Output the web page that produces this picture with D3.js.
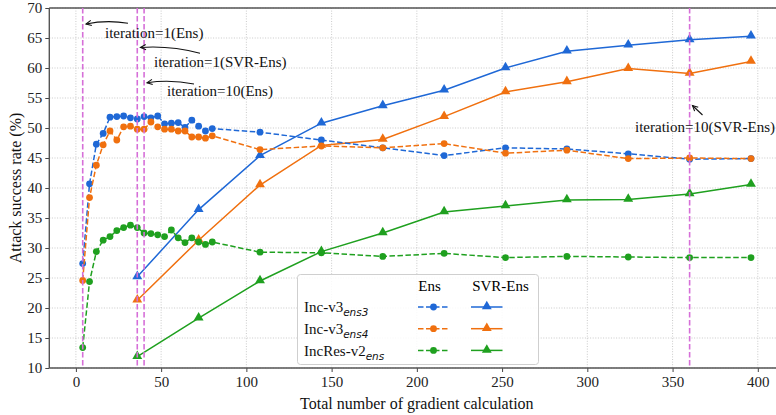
<!DOCTYPE html>
<html>
<head>
<meta charset="utf-8">
<script src="https://cdn.jsdelivr.net/npm/d3@7"></script>
<style>
  body { margin: 0; background: #fff; }
  svg { display: block; font-family: "Liberation Serif", "Times New Roman", serif; }
</style>
</head>
<body>
<div id="chart"></div>
<script>
// gradient calculations for the Ens runs and for the SVR-Ens runs
const xEns = [4, 8, 12, 16, 20, 24, 28, 32, 36, 40, 44, 48, 52, 56, 60, 64, 68, 72, 76, 80,
  108, 144, 180, 216, 252, 288, 324, 360, 396];
const ensV3ens3 = [27.4, 40.7, 47.3, 49.1, 51.8, 51.9, 52.0, 51.7, 51.5, 51.9, 51.7, 52.0, 50.7, 50.8, 50.9, 50.1, 51.3, 50.3, 49.5, 49.9,
  49.3, 48.0, 46.7, 45.4, 46.7, 46.5, 45.7, 44.8, 44.9];
const ensV3ens4 = [24.6, 38.4, 43.8, 47.2, 49.5, 48.0, 50.2, 50.3, 49.8, 49.8, 51.0, 50.2, 49.8, 49.8, 49.5, 49.5, 48.5, 48.5, 48.3, 48.7,
  46.4, 47.0, 46.7, 47.4, 45.8, 46.3, 44.9, 45.0, 44.9];
const ensIncRes = [13.4, 24.4, 29.4, 31.3, 31.9, 32.9, 33.4, 33.8, 33.4, 32.5, 32.4, 32.2, 31.9, 33.0, 31.7, 30.9, 31.7, 31.0, 30.6, 31.0,
  29.3, 29.2, 28.6, 29.1, 28.4, 28.6, 28.5, 28.4, 28.4];

const xSvr = [36, 72, 108, 144, 180, 216, 252, 288, 324, 360, 396];
const svrV3ens3 = [25.2, 36.4, 45.4, 50.8, 53.7, 56.3, 60.0, 62.8, 63.8, 64.7, 65.3];
const svrV3ens4 = [21.3, 31.3, 40.5, 47.1, 48.1, 51.9, 56.0, 57.7, 59.9, 59.1, 61.1];
const svrIncRes = [11.9, 18.3, 24.5, 29.4, 32.5, 36.0, 37.0, 38.0, 38.1, 39.0, 40.6];

const models = ["Inc-v3", "Inc-v3", "IncRes-v2"];
const modelSubs = ["ens3", "ens4", "ens"];
const colors = ["#1f68d6", "#f0700f", "#1fa01f"];

const xTicks = [0, 50, 100, 150, 200, 250, 300, 350, 400];
const yTicks = [10, 15, 20, 25, 30, 35, 40, 45, 50, 55, 60, 65, 70];

// vertical marker lines and their notes
const markLines = [4, 36, 40, 360];
const notes = ["iteration=1(Ens)", "iteration=1(SVR-Ens)", "iteration=10(Ens)", "iteration=10(SVR-Ens)"];

const W = 776, H = 415;
const plot = { left: 49.3, right: 784.4, top: 8, bottom: 368 };

const x = d3.scaleLinear().domain([-15.6, 415.6]).range([plot.left, plot.right]);
const y = d3.scaleLinear().domain([10, 70]).range([plot.bottom, plot.top]);

const svg = d3.select("#chart").append("svg")
  .attr("width", W).attr("height", H);

svg.append("defs").append("clipPath").attr("id", "clip")
  .append("rect")
  .attr("x", plot.left).attr("y", plot.top)
  .attr("width", plot.right - plot.left).attr("height", plot.bottom - plot.top);

// grid
const grid = svg.append("g").attr("class", "grid");
grid.selectAll("line.gx").data(xTicks).enter().append("line")
  .attr("x1", d => x(d)).attr("x2", d => x(d))
  .attr("y1", plot.top).attr("y2", plot.bottom)
  .attr("stroke", "#bdbdbd").attr("stroke-width", 0.8).attr("stroke-dasharray", "1,1.6");
grid.selectAll("line.gy").data(yTicks).enter().append("line")
  .attr("x1", plot.left).attr("x2", plot.right)
  .attr("y1", d => y(d)).attr("y2", d => y(d))
  .attr("stroke", "#bdbdbd").attr("stroke-width", 0.8).attr("stroke-dasharray", "1,1.6");

// axes
const xAxis = d3.axisBottom(x).tickValues(xTicks).tickSize(4).tickPadding(4);
const yAxis = d3.axisLeft(y).tickValues(yTicks).tickSize(4).tickPadding(3);

const gx = svg.append("g").attr("transform", `translate(0,${plot.bottom})`).call(xAxis);
const gy = svg.append("g").attr("transform", `translate(${plot.left},0)`).call(yAxis);
[gx, gy].forEach(g => {
  g.select(".domain").remove();
  g.selectAll(".tick line").attr("stroke", "#444").attr("stroke-width", 1);
  g.selectAll(".tick text").attr("fill", "#222")
    .style("font-family", "'Liberation Serif', serif").style("font-size", "15px");
});

// spines
svg.append("line").attr("x1", plot.left).attr("x2", plot.right)
  .attr("y1", plot.bottom).attr("y2", plot.bottom).attr("stroke", "#555").attr("stroke-width", 1.4);
svg.append("line").attr("x1", plot.left).attr("x2", plot.right)
  .attr("y1", plot.top).attr("y2", plot.top).attr("stroke", "#555").attr("stroke-width", 1.4);
svg.append("line").attr("x1", plot.left).attr("x2", plot.left)
  .attr("y1", plot.top).attr("y2", plot.bottom).attr("stroke", "#555").attr("stroke-width", 1.4);

// axis labels
svg.append("text")
  .attr("x", (plot.left + plot.right) / 2).attr("y", 409)
  .attr("text-anchor", "middle").style("font-size", "16px").attr("fill", "#111")
  .text("Total number of gradient calculation");
svg.append("text")
  .attr("transform", `translate(21,${(plot.top + plot.bottom) / 2}) rotate(-90)`)
  .attr("text-anchor", "middle").style("font-size", "16px").attr("fill", "#111")
  .text("Attack success rate (%)");

// series
const ensSets = [ensV3ens3, ensV3ens4, ensIncRes];
const svrSets = [svrV3ens3, svrV3ens4, svrIncRes];
const tri = d3.symbol().type(d3.symbolTriangle).size(42);

const body = svg.append("g").attr("clip-path", "url(#clip)");
const line = d3.line().x(d => x(d[0])).y(d => y(d[1]));

svrSets.forEach((vals, i) => {
  const pts = xSvr.map((d, j) => [d, vals[j]]);
  body.append("path").datum(pts)
    .attr("d", line).attr("fill", "none")
    .attr("stroke", colors[i]).attr("stroke-width", 1.5);
  body.selectAll(null).data(pts).enter().append("path")
    .attr("d", tri)
    .attr("transform", d => `translate(${x(d[0])},${y(d[1]) - 0.5})`)
    .attr("fill", colors[i]);
});

ensSets.forEach((vals, i) => {
  const pts = xEns.map((d, j) => [d, vals[j]]);
  body.append("path").datum(pts)
    .attr("d", line).attr("fill", "none")
    .attr("stroke", colors[i]).attr("stroke-width", 1.5)
    .attr("stroke-dasharray", "5.5,2.5");
  body.selectAll(null).data(pts).enter().append("circle")
    .attr("cx", d => x(d[0])).attr("cy", d => y(d[1])).attr("r", 3.4)
    .attr("fill", colors[i]);
});

// marker lines
body.selectAll("line.mark").data(markLines).enter().append("line")
  .attr("x1", d => x(d)).attr("x2", d => x(d))
  .attr("y1", plot.top).attr("y2", plot.bottom)
  .attr("stroke", "#d66fd8").attr("stroke-width", 1.6).attr("stroke-dasharray", "5.5,2.5");

// annotations: text anchor, arrow start, arrow tip (pixels), bulge
const noteLayout = [
  { tx: 105, ty: 32.5, from: [128, 23.3], to: [86, 24], bend: -4 },
  { tx: 154, ty: 61.7, from: [200, 53.3], to: [140.5, 47.5], bend: -5 },
  { tx: 167, ty: 90.7, from: [194, 84], to: [147, 82.7], bend: -4 },
  { tx: 635, ty: 126.7, from: [702.5, 115], to: [692.5, 105.5], bend: 0 }
];
const ann = svg.append("g");
notes.forEach((t, i) => {
  const L = noteLayout[i];
  ann.append("text").attr("x", L.tx).attr("y", L.ty).attr("dy", "0.35em")
    .style("font-size", "15px").attr("fill", "#111").text(t);
  const [x0, y0] = L.from, [x1, y1] = L.to;
  const mx = (x0 + x1) / 2, my = (y0 + y1) / 2 + L.bend;
  ann.append("path")
    .attr("d", `M${x0},${y0}Q${mx},${my} ${x1},${y1}`)
    .attr("fill", "none").attr("stroke", "#111").attr("stroke-width", 1.1);
  // open arrow head along the tangent at the tip
  const ang = Math.atan2(y1 - my, x1 - mx);
  const hl = 6, spread = 0.45;
  const a1 = [x1 - hl * Math.cos(ang - spread), y1 - hl * Math.sin(ang - spread)];
  const a2 = [x1 - hl * Math.cos(ang + spread), y1 - hl * Math.sin(ang + spread)];
  ann.append("path")
    .attr("d", `M${a1[0]},${a1[1]}L${x1},${y1}L${a2[0]},${a2[1]}`)
    .attr("fill", "none").attr("stroke", "#111").attr("stroke-width", 1.1);
});

// legend
const lg = svg.append("g");
lg.append("rect")
  .attr("x", 297.5).attr("y", 274.5).attr("width", 241).attr("height", 90).attr("rx", 3)
  .attr("fill", "#fff").attr("fill-opacity", 0.85).attr("stroke", "#cfcfcf");
lg.append("text").attr("x", 429.5).attr("y", 286).attr("dy", "0.35em")
  .attr("text-anchor", "middle").style("font-size", "15px").text("Ens");
lg.append("text").attr("x", 500.5).attr("y", 286).attr("dy", "0.35em")
  .attr("text-anchor", "middle").style("font-size", "15px").text("SVR-Ens");

const rows = lg.selectAll("g.row").data(models).enter().append("g")
  .attr("transform", (d, i) => `translate(0,${307 + i * 21.7})`);
const lab = rows.append("text").attr("x", 304).attr("y", 0).attr("dy", "0.35em")
  .style("font-size", "15px").attr("fill", "#111");
lab.append("tspan").text(d => d);
lab.append("tspan")
  .attr("dy", 4)
  .style("font-family", "'DejaVu Sans', sans-serif").style("font-style", "italic").style("font-size", "10.5px")
  .text((d, i) => modelSubs[i]);
rows.append("line").attr("x1", 418).attr("x2", 449).attr("y1", 0).attr("y2", 0)
  .attr("stroke", (d, i) => colors[i]).attr("stroke-width", 1.5).attr("stroke-dasharray", "5.5,2.5");
rows.append("circle").attr("cx", 433.5).attr("cy", 0).attr("r", 3.4)
  .attr("fill", (d, i) => colors[i]);
rows.append("line").attr("x1", 471).attr("x2", 502.5).attr("y1", 0).attr("y2", 0)
  .attr("stroke", (d, i) => colors[i]).attr("stroke-width", 1.5);
rows.append("path").attr("d", tri)
  .attr("transform", "translate(486.8,-0.5)")
  .attr("fill", (d, i) => colors[i]);
</script>
</body>
</html>
